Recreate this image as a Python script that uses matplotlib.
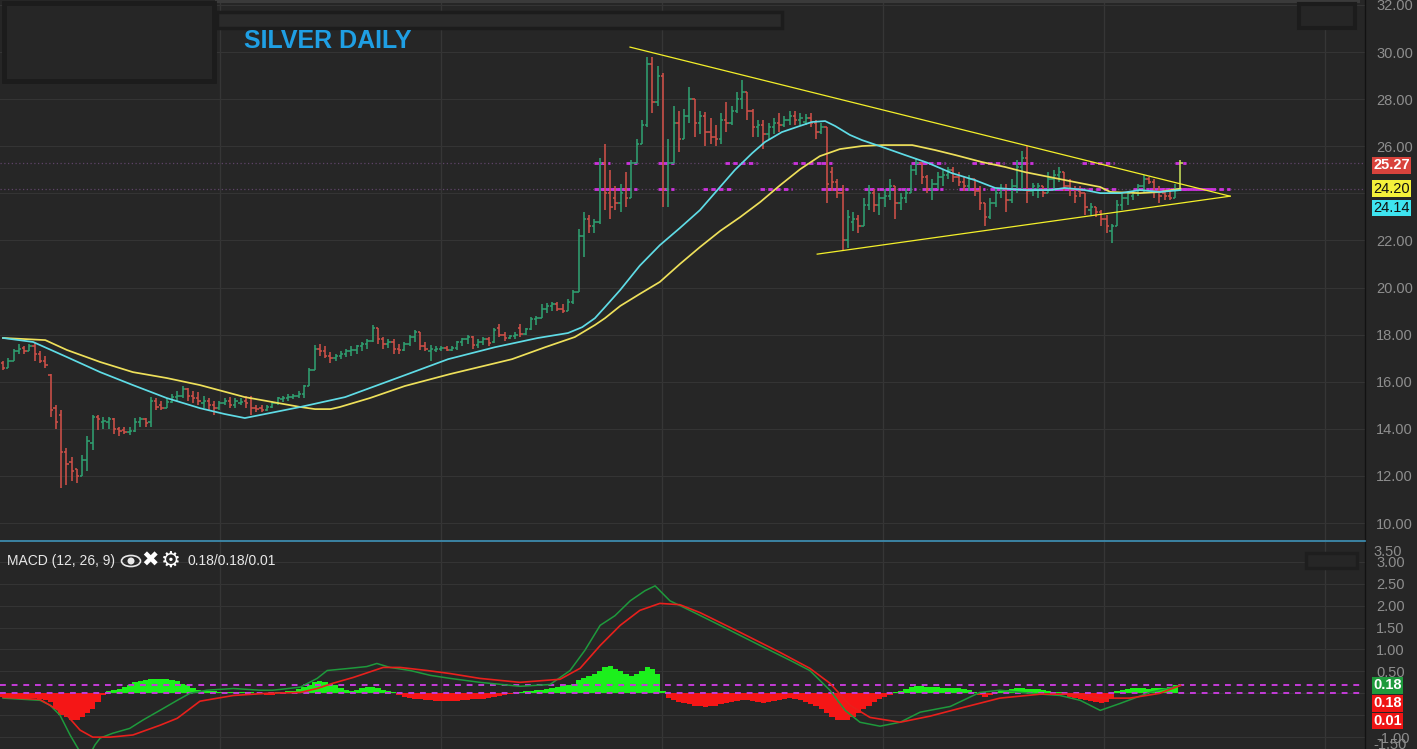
import numpy as np
import matplotlib
matplotlib.use("Agg")
import matplotlib.pyplot as plt
from matplotlib.collections import LineCollection
from matplotlib.patches import Rectangle, Ellipse, Circle
from matplotlib.transforms import offset_copy

plt.rcParams["font.family"] = ["Liberation Sans", "DejaVu Sans"]

# ---------------------------------------------------------------- price data
opens = [
    16.8, 16.6, 16.9, 17.3, 17.45, 17.3, 17.5, 17.2, 16.9, 16.3,
    14.9, 14.6, 13.0, 12.6, 12.3, 12.0, 12.7, 13.4, 14.5, 14.3,
    14.3, 14.4, 14.0, 13.95, 13.85, 13.9, 14.3, 14.4, 14.3, 15.2,
    15.0, 14.9, 15.15, 15.35, 15.4, 15.7, 15.4, 15.3, 15.1, 15.2,
    15.0, 14.9, 15.1, 15.2, 15.0, 15.1, 15.2, 15.3, 14.9, 14.9,
    14.8, 14.95, 15.1, 15.25, 15.3, 15.35, 15.4, 15.5, 15.8, 16.5,
    17.4, 17.3, 17.1, 17.0, 17.1, 17.2, 17.3, 17.35, 17.5, 17.6,
    17.75, 18.3, 17.8, 17.6, 17.7, 17.4, 17.35, 17.6, 17.9, 18.1,
    17.5, 17.3, 17.35, 17.4, 17.45, 17.35, 17.45, 17.7, 17.8, 17.9,
    17.55, 17.7, 17.8, 17.7, 18.3, 18.0, 17.85, 17.95, 18.3, 18.05,
    18.25, 18.65, 18.7, 19.1, 19.2, 19.3, 19.1, 19.0, 19.4, 19.8,
    22.2, 22.9, 22.6, 22.8, 25.3, 24.0, 23.8, 23.6, 24.2, 23.8,
    25.3, 26.1, 26.9, 29.5, 27.9, 29.0, 24.2, 25.3, 27.0, 26.3,
    27.3, 28.0, 27.0, 27.3, 26.6, 26.4, 26.3, 27.1, 27.0, 27.5,
    28.0, 28.3, 27.5, 26.8, 26.9, 26.5, 26.8, 27.0, 26.9, 27.1,
    27.3, 27.1, 27.05, 27.2, 27.0, 26.6, 26.8, 24.9, 24.5, 24.0,
    22.0, 22.8, 22.9, 22.6, 23.5, 24.0, 23.5, 23.8, 23.9, 24.3,
    23.6, 23.8, 24.0, 25.0, 25.3, 24.7, 24.2, 24.4, 24.7, 24.8,
    25.0, 24.7, 24.5, 24.3, 24.6, 24.1, 23.6, 23.0, 23.6, 24.0,
    24.2, 23.7, 24.3, 25.1, 25.5, 24.1, 24.2, 24.3, 24.0, 24.6,
    24.8, 24.9, 24.3, 24.2, 24.1, 24.0, 23.3, 23.4, 23.2, 22.9,
    22.4, 22.6, 23.5, 23.8, 23.9, 24.0, 24.3, 24.6, 24.5, 24.1,
    24.0, 23.9, 23.8, 24.2,
]
highs = [
    16.9, 17.0, 17.4, 17.6, 17.5, 17.6, 17.65, 17.3, 17.1, 16.35,
    15.0, 14.8, 13.2, 12.8, 12.3, 12.9, 13.7, 14.6, 14.6, 14.5,
    14.5, 14.45, 14.1, 14.1, 14.1, 14.45, 14.5, 14.45, 15.35, 15.3,
    15.2, 15.3, 15.5, 15.6, 15.8, 15.75, 15.6, 15.55, 15.4, 15.3,
    15.2, 15.2, 15.3, 15.35, 15.3, 15.3, 15.4, 15.4, 15.0, 15.0,
    15.0, 15.2, 15.35, 15.4, 15.5, 15.5, 15.6, 15.85, 16.6, 17.55,
    17.6, 17.5, 17.25, 17.2, 17.3, 17.4, 17.5, 17.55, 17.7, 17.8,
    18.4, 18.3, 17.9, 17.8, 17.8, 17.6, 17.7, 18.0, 18.2, 18.1,
    17.7, 17.55, 17.5, 17.5, 17.5, 17.5, 17.75, 17.85, 18.0, 17.95,
    17.8, 17.9, 17.9, 18.3, 18.45, 18.1, 18.0, 18.1, 18.45, 18.3,
    18.75, 18.8, 19.3, 19.35, 19.4, 19.4, 19.3, 19.5, 19.9, 22.5,
    23.2, 23.1, 22.9, 25.5, 26.1, 25.0, 24.3, 24.4, 24.9, 25.4,
    26.3, 27.1, 29.8, 29.8, 29.4, 29.1, 26.3, 27.7, 27.5, 27.6,
    28.5, 28.0, 27.5, 27.45, 27.2, 26.9, 27.4, 27.9, 27.7, 28.3,
    28.8, 28.3, 27.6, 27.1, 27.1, 27.0, 27.2, 27.4, 27.3, 27.5,
    27.5, 27.4, 27.35, 27.4, 27.1, 27.0, 26.8, 25.1, 24.6, 24.35,
    23.3, 23.2, 23.1, 23.8, 24.35, 24.2, 24.0, 24.2, 24.6, 24.3,
    24.0, 24.2, 25.2, 25.5, 25.3, 24.8, 24.6, 24.9, 25.0, 25.1,
    25.1, 24.9, 24.7, 24.8, 24.6, 24.3, 23.6, 23.8, 24.2, 24.4,
    24.4, 24.6, 25.4, 25.8, 26.0, 24.45, 24.45, 24.3, 24.9, 25.0,
    25.1, 24.9, 24.6, 24.3, 24.3, 24.0, 23.6, 23.4, 23.3, 23.1,
    22.7, 23.7, 24.0, 24.1, 24.1, 24.4, 24.8, 24.7, 24.6, 24.3,
    24.2, 24.2, 24.4, 25.4,
]
lows = [
    16.5, 16.6, 16.9, 17.2, 17.2, 17.3, 16.9, 16.8, 16.6, 14.5,
    14.0, 11.5, 11.6, 11.8, 11.7, 12.0, 12.2, 13.1, 13.95, 14.0,
    14.0, 13.8, 13.7, 13.8, 13.75, 13.85, 14.1, 14.1, 14.1, 14.8,
    14.8, 14.9, 15.1, 15.2, 15.3, 15.2, 15.1, 15.0, 14.9, 14.8,
    14.6, 14.8, 15.0, 14.9, 14.9, 15.0, 14.9, 14.6, 14.7, 14.7,
    14.75, 14.9, 15.0, 15.15, 15.2, 15.25, 15.3, 15.3, 15.8, 16.5,
    17.1, 17.0, 16.8, 16.9, 16.95, 17.05, 17.1, 17.2, 17.3, 17.4,
    17.7, 17.6, 17.4, 17.45, 17.2, 17.2, 17.3, 17.5, 17.7, 17.35,
    17.3, 16.9, 17.25, 17.3, 17.3, 17.3, 17.35, 17.5, 17.6, 17.4,
    17.45, 17.55, 17.5, 17.65, 17.9, 17.75, 17.8, 17.8, 17.9, 18.0,
    18.2, 18.4, 18.7, 18.9, 19.0, 19.0, 18.9, 19.0, 19.3, 19.8,
    21.3, 22.3, 22.3, 22.7, 23.3, 22.9, 23.3, 23.2, 23.4, 23.8,
    25.3, 26.1, 26.8, 27.4, 27.7, 23.4, 23.4, 25.3, 25.75, 26.3,
    27.0, 26.4, 26.5, 26.0, 26.1, 26.0, 26.1, 26.6, 26.9, 27.4,
    27.6, 27.1, 26.4, 26.4, 25.9, 26.3, 26.5, 26.6, 26.8, 26.9,
    26.9, 26.9, 26.9, 26.8, 26.3, 26.5, 23.6, 24.1, 23.8, 21.6,
    21.7, 22.4, 22.3, 22.6, 23.3, 23.2, 23.1, 23.4, 23.7, 22.9,
    23.3, 23.6, 24.0, 24.8, 24.4, 24.0, 23.7, 24.2, 24.3, 24.6,
    24.5, 24.3, 24.1, 24.1, 23.9, 23.3, 22.6, 22.9, 23.4, 23.8,
    23.2, 23.6, 24.0, 24.1, 23.6, 23.9, 23.8, 23.85, 24.0, 24.1,
    24.5, 24.1, 23.9, 23.6, 23.85, 23.1, 23.1, 23.0, 22.6, 22.3,
    21.9, 22.6, 23.3, 23.5, 23.7, 23.9, 24.0, 24.4, 23.8, 23.6,
    23.7, 23.7, 23.8, 24.1,
]
closes = [
    16.6, 16.9, 17.3, 17.4, 17.3, 17.5, 17.2, 16.9, 16.7, 14.8,
    14.3, 13.0, 12.5, 12.2, 12.0, 12.7, 13.5, 14.5, 14.4, 14.35,
    14.4, 14.0, 13.9, 13.85, 13.9, 14.3, 14.4, 14.25, 15.2, 14.95,
    14.9, 15.15, 15.35, 15.4, 15.7, 15.4, 15.3, 15.2, 15.2, 15.0,
    14.9, 15.1, 15.2, 15.0, 15.2, 15.15, 15.1, 14.9, 14.85, 14.8,
    14.95, 15.1, 15.3, 15.3, 15.35, 15.4, 15.5, 15.8, 16.5, 17.4,
    17.3, 17.1, 17.0, 17.1, 17.2, 17.3, 17.35, 17.5, 17.6, 17.75,
    18.3, 17.8, 17.6, 17.7, 17.4, 17.35, 17.6, 17.9, 18.1, 17.5,
    17.4, 17.4, 17.4, 17.45, 17.35, 17.45, 17.7, 17.8, 17.9, 17.55,
    17.7, 17.8, 17.65, 18.2, 18.0, 17.85, 17.95, 18.0, 18.05, 18.25,
    18.65, 18.7, 19.1, 19.2, 19.3, 19.1, 19.0, 19.4, 19.8, 22.2,
    22.9, 22.6, 22.8, 25.3, 24.0, 23.4, 23.6, 24.0, 23.8, 25.3,
    26.1, 26.9, 29.5, 27.9, 29.0, 24.2, 25.3, 27.0, 26.3, 27.3,
    28.0, 27.0, 27.3, 26.6, 26.4, 26.3, 27.1, 27.0, 27.5, 28.0,
    28.3, 27.5, 26.8, 26.9, 26.5, 26.8, 27.0, 26.9, 27.1, 27.3,
    27.1, 27.2, 27.2, 27.0, 26.6, 26.8, 24.4, 24.5, 24.0, 22.0,
    23.0, 22.9, 22.6, 23.5, 24.0, 23.5, 23.8, 23.9, 24.3, 23.6,
    23.8, 24.0, 25.0, 25.3, 24.7, 24.2, 24.4, 24.7, 24.8, 25.0,
    24.7, 24.5, 24.3, 24.6, 24.1, 23.6, 23.0, 23.6, 24.0, 24.2,
    23.7, 24.3, 25.1, 25.5, 24.1, 24.3, 24.3, 24.0, 24.6, 24.8,
    24.9, 24.3, 24.2, 23.9, 24.0, 23.4, 23.4, 23.2, 22.9, 22.6,
    22.6, 23.5, 23.8, 24.0, 24.0, 24.3, 24.6, 24.5, 24.1, 23.9,
    23.9, 23.8, 24.2, 25.27,
]

# moving averages (bar index, value)
ma_fast_x = [0, 5.7, 12.1, 18.4, 24.6, 31, 37.3, 42, 45.8, 49.6, 53.4, 56.3,
             64.8, 76.1, 84.3, 93.2, 101.3, 107, 109.7, 112.1, 114, 116.9,
             120.6, 124.4, 128.2, 132, 135.8, 138.6, 141.9, 144.3, 147.5,
             150.9, 153.2, 155.7, 157.6, 160.4, 162.7, 166.5, 170.8, 175.2,
             179.7, 184.1, 187.9, 193.6, 198.3, 201.1, 204.9, 207.8, 211.6,
             215.3, 219.1, 223]
ma_fast_y = [17.86, 17.69, 17.05, 16.41, 15.86, 15.31, 14.88, 14.63, 14.46,
             14.63, 14.80, 14.93, 15.35, 16.28, 16.96, 17.47, 17.86, 18.07,
             18.32, 18.70, 19.17, 19.90, 20.93, 21.80, 22.53, 23.29, 24.27,
             24.99, 25.71, 26.18, 26.60, 26.86, 27.03, 27.07, 26.86, 26.48,
             26.26, 25.97, 25.63, 25.29, 24.86, 24.56, 24.23, 24.14, 24.14,
             24.23, 24.14, 24.01, 24.01, 24.14, 24.06, 24.14]
ma_slow_x = [0, 8, 12.1, 18.4, 24.6, 31, 37.3, 45.8, 56.3, 59.1, 62, 63.8,
             69.5, 76.1, 84.7, 96.4, 102.7, 108.3, 112.1, 114, 116.9, 120.6,
             124.4, 128.2, 132, 135.8, 139.6, 143.4, 147.2, 151, 154.7, 158.5,
             162.7, 166.5, 172.2, 176.5, 180.3, 185.4, 189.8, 193.6, 198.3,
             203, 207.8, 209.7, 215.3, 219.1, 223]
ma_slow_y = [17.86, 17.77, 17.35, 16.84, 16.41, 16.16, 15.86, 15.35, 14.93,
             14.84, 14.84, 14.93, 15.31, 15.82, 16.33, 16.96, 17.47, 17.90,
             18.41, 18.70, 19.22, 19.73, 20.24, 21.00, 21.72, 22.40, 22.99,
             23.63, 24.35, 25.03, 25.58, 25.88, 26.01, 26.05, 26.05, 25.84,
             25.63, 25.33, 25.12, 24.90, 24.69, 24.48, 24.27, 24.06, 24.01,
             24.06, 24.20]

# triangle trendlines (bar index, price)
trend_upper = [(118.75, 30.21), (232.4, 23.88)]
trend_lower = [(154.2, 21.42), (232.4, 23.88)]

# ---------------------------------------------------------------- MACD data
macd_x = [0, 7, 8.9, 10.8, 12.7, 14.6, 16.1, 17.4, 18.4, 20.8, 24, 26.5, 29.7,
          33, 35.4, 38.6, 43.6, 48.7, 51.1, 56.3, 59.5, 61.4, 65.7, 68.9, 70.8,
          73.3, 77.1, 80.9, 84.7, 90.3, 97.9, 103.6, 107.4, 110.2, 113.1,
          115.9, 118.8, 121.6, 123.5, 126.3, 130.1, 135.8, 143.4, 149.1,
          152.8, 156.6, 159.5, 162.3, 166.1, 169.9, 173.7, 179.4, 185.0,
          188.8, 194.5, 200.2, 204.0, 207.8, 211.6, 217.2, 223]
macd_y = [-0.11, -0.16, -0.27, -0.50, -0.95, -1.34, -1.48, -1.18, -1.02, -0.91,
          -0.80, -0.61, -0.39, -0.16, 0.0, 0.07, 0.11, 0.07, 0.07, 0.14, 0.34,
          0.52, 0.57, 0.61, 0.68, 0.59, 0.52, 0.41, 0.34, 0.25, 0.16, 0.20,
          0.52, 0.98, 1.55, 1.77, 2.11, 2.34, 2.45, 2.11, 1.89, 1.55, 1.09,
          0.75, 0.52, 0.07, -0.39, -0.66, -0.75, -0.66, -0.43, -0.30, 0.02,
          0.07, 0.0, -0.05, -0.16, -0.39, -0.23, 0.02, 0.18]
signal_x = [0, 7, 12.1, 14.6, 17, 20.3, 24.6, 29.7, 33, 37.3, 43.6, 50, 56.3,
            59.5, 62.5, 66.3, 72, 75.2, 80.3, 84.7, 90.3, 97.9, 105.5, 109.3,
            113.1, 116.9, 120.6, 124.4, 128.2, 132, 139.6, 147.2, 152.8, 156.6,
            160.4, 164.2, 169.9, 175.6, 181.3, 188.8, 196.4, 204, 207.8, 213.4,
            219.1, 223]
signal_y = [-0.09, -0.14, -0.50, -0.84, -1.0, -1.0, -0.95, -0.73, -0.57, -0.18,
            -0.05, 0.0, 0.02, 0.11, 0.23, 0.36, 0.59, 0.59, 0.52, 0.45, 0.34,
            0.25, 0.32, 0.57, 1.09, 1.55, 1.89, 2.05, 2.02, 1.84, 1.39, 0.93,
            0.57, 0.23, -0.27, -0.55, -0.66, -0.52, -0.34, -0.11, -0.02, -0.02,
            -0.11, -0.11, 0.0, 0.18]
histogram = [
    -0.08, -0.1, -0.1, -0.1, -0.1, -0.1, -0.1, -0.12, -0.15,
    -0.2, -0.35, -0.5, -0.55,
    -0.6, -0.6, -0.55, -0.45, -0.35,
    -0.2, -0.05,
    0.05, 0.08, 0.1,
    0.15, 0.2, 0.25, 0.28,
    0.3, 0.32, 0.33, 0.33, 0.32, 0.3, 0.27, 0.22, 0.18,
    0.12, 0.08, 0.06, 0.05, 0.05,
    0.04, 0.04, 0.03, 0.03, 0.02, 0.02, 0.02, 0.01, 0.01,
    -0.05, -0.03,
    0.02, 0.03, 0.05, 0.06, 0.1,
    0.15, 0.2, 0.25, 0.28, 0.25, 0.22,
    0.18, 0.12, 0.08, 0.06,
    0.08, 0.12, 0.15, 0.15, 0.12, 0.08, 0.05, 0.03,
    -0.05, -0.08, -0.1, -0.12, -0.14, -0.15, -0.16, -0.17, -0.18, -0.18, -0.18,
    -0.17, -0.16, -0.15, -0.14, -0.13, -0.12, -0.1, -0.08, -0.06, -0.04, -0.02,
    0.02, 0.04, 0.05, 0.06, 0.07, 0.08, 0.1, 0.12, 0.15, 0.18, 0.2, 0.22,
    0.3, 0.35, 0.4, 0.45, 0.5,
    0.6, 0.62, 0.55, 0.5, 0.45,
    0.4, 0.45, 0.5, 0.6,
    0.55, 0.45,
    0.05, -0.1,
    -0.15, -0.2, -0.22, -0.25, -0.28, -0.3, -0.32, -0.3, -0.28,
    -0.25, -0.22, -0.2, -0.18, -0.15, -0.15, -0.18, -0.2, -0.22, -0.2, -0.18,
    -0.15, -0.12, -0.1, -0.12,
    -0.15, -0.2, -0.25, -0.3, -0.35,
    -0.45, -0.55, -0.6, -0.62, -0.6, -0.55, -0.45, -0.35,
    -0.28, -0.2, -0.12, -0.08, -0.03,
    0.02, 0.05,
    0.1, 0.14, 0.16, 0.16, 0.15, 0.15, 0.14, 0.13, 0.12, 0.12, 0.12, 0.1, 0.08,
    0.03, -0.04, -0.08,
    -0.05, 0.02, 0.06,
    0.08, 0.1, 0.12, 0.12, 0.1, 0.1, 0.1, 0.08, 0.06, 0.04, 0.02,
    -0.04, -0.08, -0.1, -0.12, -0.15, -0.18, -0.2, -0.22, -0.2, -0.12,
    0.05, 0.08, 0.1, 0.12, 0.12, 0.12, 0.1, 0.12, 0.12, 0.12, 0.15, 0.2, 0.01,
]
price_ticks = [10, 12, 14, 16, 18, 20, 22, 24, 26, 28, 30, 32]
price_tick_labels = ["10.00", "12.00", "14.00", "16.00", "18.00", "20.00", "22.00",
                     "", "26.00", "28.00", "30.00", "32.00"]
macd_ticks = [-1.0, -0.5, 0.0, 0.5, 1.0, 1.5, 2.0, 2.5, 3.0]
macd_tick_labels = ["-1.00", "", "", "0.50", "1.00", "1.50", "2.00", "2.50", "3.00"]
period_lines = [41.1, 82.95, 124.8, 166.7, 208.5, 250.4]

# ---------------------------------------------------------------- styling
W, H = 1417, 749
BG = "#262626"
GRID = "#343434"
AXIS_TXT = "#8e8e8e"
UP, DOWN, LAST = "#2f9f70", "#cf5048", "#c8e05a"
CYAN, YELLOW = "#5fdce6", "#eee05a"
MAGENTA = "#cc33dd"
XLIM = (-0.57, 257.95)

fig = plt.figure(figsize=(W / 100, H / 100), dpi=100, facecolor=BG)
ax = fig.add_axes([0, (H - 541) / H, 1365 / W, 541 / H], facecolor=BG)
axm = fig.add_axes([0, 0, 1365 / W, (H - 542) / H], facecolor=BG)


def style_axis(a):
    for side in ("top", "left", "bottom"):
        a.spines[side].set_visible(False)
    a.spines["right"].set_color("#121212")
    a.spines["right"].set_linewidth(1.0)
    a.yaxis.tick_right()
    a.tick_params(axis="y", length=0, pad=8, labelcolor=AXIS_TXT, labelsize=10.5)
    a.tick_params(axis="x", bottom=False, labelbottom=False)
    a.grid(axis="y", color=GRID, lw=0.8)
    a.set_axisbelow(True)
    a.set_xlim(*XLIM)
    for xv in period_lines:
        a.axvline(xv, color="#363636", lw=0.9, zorder=0)


style_axis(ax)
style_axis(axm)

# ---------------------------------------------------------------- price panel
ax.set_ylim(9.24, 32.21)
ax.set_yticks(price_ticks)
ax.set_yticklabels(price_tick_labels)

n = len(closes)
segs, cols = [], []
for i in range(n):
    c = UP if closes[i] >= opens[i] else DOWN
    if i == n - 1:
        c = LAST
    segs += [[(i, lows[i]), (i, highs[i])],
             [(i - 0.45, opens[i]), (i, opens[i])],
             [(i, closes[i]), (i + 0.45, closes[i])]]
    cols += [c, c, c]
ax.add_collection(LineCollection(segs, colors=cols, linewidths=1.15, zorder=3))

ax.plot(ma_slow_x, ma_slow_y, color=YELLOW, lw=1.25, zorder=4, solid_joinstyle="round")
ax.plot(ma_fast_x, ma_fast_y, color=CYAN, lw=1.25, zorder=4, solid_joinstyle="round")

for tl in (trend_upper, trend_lower):
    ax.plot([p[0] for p in tl], [p[1] for p in tl], color="#f4f02a", lw=0.9, zorder=5)

# horizontal price levels: faint dotted line, brighter where something crosses it
levels = [closes[-1], ma_slow_y[-1]]
dense = np.linspace(0, 233, 2331)
curves = [np.interp(dense, ma_fast_x, ma_fast_y, left=np.nan, right=np.nan),
          np.interp(dense, ma_slow_x, ma_slow_y, left=np.nan, right=np.nan),
          np.interp(dense, [p[0] for p in trend_upper], [p[1] for p in trend_upper],
                    left=np.nan, right=np.nan),
          np.interp(dense, [p[0] for p in trend_lower], [p[1] for p in trend_lower],
                    left=np.nan, right=np.nan)]
for lv in levels:
    ax.axhline(lv, color="#5e4468", lw=0.9, ls=(0, (1, 2)), zorder=1)
    for i in range(n):
        if lows[i] <= lv <= highs[i]:
            ax.plot([i - 1.0, i + 1.0], [lv, lv], color=MAGENTA, lw=2.0,
                    ls=(0, (1.6, 1.2)), zorder=2)
    for cv in curves:
        d = np.sign(cv - lv)
        hits = np.where(np.nan_to_num(d[:-1] * d[1:], nan=1) < 0)[0]
        for h in hits:
            ax.plot([dense[h] - 3, dense[h] + 3], [lv, lv], color=MAGENTA, lw=2.0,
                    ls=(0, (1.6, 1.2)), zorder=2)
ax.plot([n - 1, trend_upper[1][0]], [levels[1], levels[1]], color=MAGENTA, lw=2.0,
        ls=(0, (1.6, 1.2)), zorder=2)


def tag(a, value, face, txt, dy_px=0, bold=False):
    tr = offset_copy(a.get_yaxis_transform(), fig=fig, x=0, y=-dy_px, units="dots")
    a.text(1 + 8 / 1365, value, f"{value:.2f}", transform=tr, ha="left", va="center",
           fontsize=10.5, color=txt, fontweight="bold" if bold else "normal",
           bbox=dict(boxstyle="square,pad=0.08", fc=face, ec="none"),
           clip_on=False, zorder=10)


tag(ax, closes[-1], "#d8433c", "white", dy_px=2, bold=True)
tag(ax, ma_slow_y[-1], "#f4f03a", "#111111", dy_px=0)
tag(ax, ma_fast_y[-1], "#3ee4f0", "#111111", dy_px=18)

# ---------------------------------------------------------------- MACD panel
axm.set_ylim(-1.27, 3.45)
axm.set_yticks(macd_ticks)
axm.set_yticklabels(macd_tick_labels)
axm.text(1 + 8 / 1365, 3.22, "3.50", transform=axm.get_yaxis_transform(),
         ha="left", va="center", fontsize=10.5, color=AXIS_TXT, clip_on=False)
axm.text(1 + 8 / 1365, -1.17, "-1.50", transform=axm.get_yaxis_transform(),
         ha="left", va="center", fontsize=10.5, color=AXIS_TXT, clip_on=False)

hist = np.array(histogram)
axm.bar(np.arange(n), hist, width=1.0, color=np.where(hist >= 0, "#1cf01c", "#f51616"),
        linewidth=0, zorder=2)
axm.plot(macd_x, macd_y, color="#1e9a3c", lw=1.1, zorder=4)
axm.plot(signal_x, signal_y, color="#e8201c", lw=1.2, zorder=4)
axm.axhline(macd_y[-1], color="#c43cd8", lw=1.4, ls=(0, (3, 3)), zorder=3)
axm.axhline(hist[-1], color="#c43cd8", lw=1.4, ls=(0, (3, 3)), zorder=3)

tag(axm, macd_y[-1], "#1e9a3c", "white", dy_px=0, bold=True)
tag(axm, signal_y[-1], "#ee1414", "white", dy_px=18, bold=True)
tag(axm, hist[-1], "#ee1414", "white", dy_px=28, bold=True)

# ---------------------------------------------------------------- chrome
def px(x, y):
    return (x / 100, (H - y) / 100)


def box(x0, y0, x1, y1, fc, ec, lw):
    fig.add_artist(Rectangle(px(x0, y1), (x1 - x0) / 100, (y1 - y0) / 100,
                             transform=fig.dpi_scale_trans, fc=fc, ec=ec, lw=lw))


fig.add_artist(Rectangle(px(215, 3), (1360 - 215) / 100, 0.03,
                         transform=fig.dpi_scale_trans, fc="#3a3a3a", ec="none"))
box(4, 3, 214, 81, BG, "#1c1c1c", 3.5)
box(217, 12, 782, 28, "#2a2a2a", "#1c1c1c", 2.5)
box(1299, 4, 1355, 28, BG, "#1c1c1c", 3.0)
box(1306, 553, 1357, 568, BG, "#1e1e1e", 2.5)

fig.add_artist(plt.Line2D([0, 1365 / W], [(H - 541) / H] * 2, color="#3f93b8", lw=1.2))

fig.text(244 / W, 1 - 41 / H, "SILVER DAILY", color="#1f9fe4", fontsize=18,
         fontweight="bold", va="center", ha="left",
         family=["Liberation Sans Narrow", "Liberation Sans"])

fig.text(7 / W, 1 - 561 / H, "MACD (12, 26, 9)", color="#e8e8e8", fontsize=10,
         va="center", ha="left")
fig.add_artist(Ellipse(px(131, 561), 0.19, 0.11, transform=fig.dpi_scale_trans,
                       fc="none", ec="#e8e8e8", lw=1.2))
fig.add_artist(Circle(px(131, 561), 0.035, transform=fig.dpi_scale_trans,
                      fc="#e8e8e8", ec="none"))
fig.text(150 / W, 1 - 561 / H, "\u2716", color="white", fontsize=15,
         va="center", ha="center", family=["DejaVu Sans"])
fig.text(171 / W, 1 - 561 / H, "\u2699", color="white", fontsize=16,
         va="center", ha="center", family=["DejaVu Sans"], fontweight="bold")
fig.text(187 / W, 1 - 561 / H,
         f"{macd_y[-1]:.2f}/{signal_y[-1]:.2f}/{hist[-1]:.2f}",
         color="#e8e8e8", fontsize=10, va="center", ha="left")

fig.savefig("out.png", dpi=100, facecolor=BG)
